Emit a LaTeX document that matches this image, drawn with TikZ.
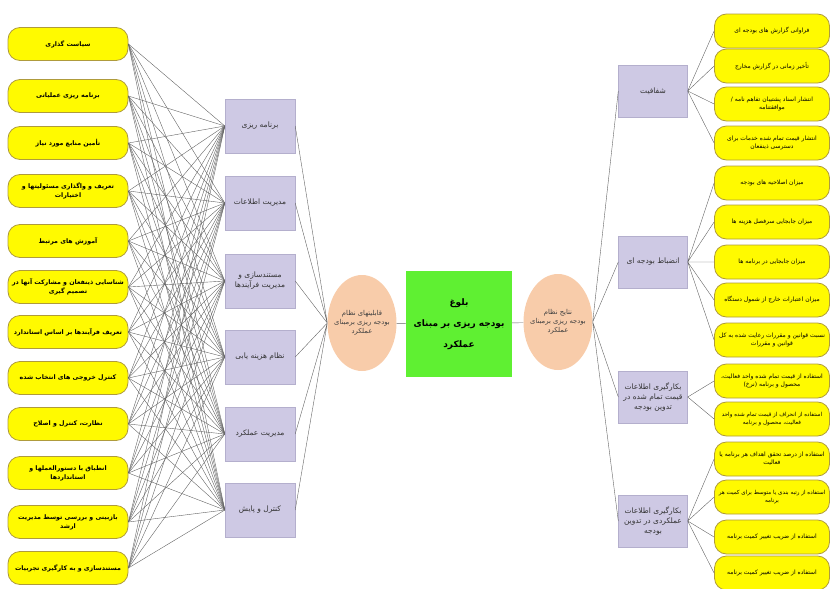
\documentclass[tikz,border=0pt]{standalone}
\usepackage{fontspec}
\newfontfamily\arabicfont[Script=Arabic]{DejaVu Sans}
\TeXXeTstate=1
\newcommand{\prs}[1]{\beginR #1\endR}
\usetikzlibrary{shapes,positioning}

\definecolor{boxyellow}{RGB}{255,250,0}
\definecolor{yellowline}{RGB}{175,155,60}
\definecolor{lilac}{RGB}{206,201,228}
\definecolor{lilacline}{RGB}{180,175,205}
\definecolor{peach}{RGB}{248,204,170}
\definecolor{brightgreen}{RGB}{95,240,50}
\definecolor{linkgray}{RGB}{100,100,100}

\begin{document}
\begin{tikzpicture}[x=1pt,y=-1pt,
  font=\arabicfont\fontsize{7}{9}\selectfont,
  yellowbox/.style={draw=yellowline, fill=boxyellow, line width=0.8pt,
    rounded corners=12pt, minimum width=120pt, minimum height=33pt,
    align=center, inner sep=1pt, font=\arabicfont\bfseries\fontsize{6.3}{9}\selectfont},
  ryellow/.style={yellowbox, minimum width=115pt, minimum height=34pt,
    font=\arabicfont\fontsize{6}{8}\selectfont},
  tight/.style={font=\arabicfont\fontsize{5.6}{8}\selectfont},
  purplebox/.style={draw=lilacline, fill=lilac, minimum width=70pt,
    minimum height=54pt, align=center, inner sep=1pt, text=black!80,
    font=\arabicfont\fontsize{7.5}{10}\selectfont},
  oval/.style={ellipse, fill=peach, minimum width=69pt, minimum height=96pt,
    align=center, inner sep=-4pt, text=black!75,
    font=\arabicfont\fontsize{6.8}{9}\selectfont},
  link/.style={draw=linkgray, line width=0.4pt}]
  \useasboundingbox (0,0) rectangle (831,589);

  % left column
  \node[yellowbox] (l1) at (68,44) {\prs{سیاست گذاری}};
  \node[yellowbox] (l2) at (68,96) {\prs{برنامه ریزی عملیاتی}};
  \node[yellowbox] (l3) at (68,143) {\prs{تأمین منابع مورد نیاز}};
  \node[yellowbox] (l4) at (68,191) {\prs{تعریف و واگذاری مسئولیتها و}\\\prs{اختیارات}};
  \node[yellowbox] (l5) at (68,241) {\prs{آموزش های مرتبط}};
  \node[yellowbox] (l6) at (68,287) {\prs{شناسایی ذینفعان و مشارکت آنها در}\\\prs{تصمیم گیری}};
  \node[yellowbox] (l7) at (68,332) {\prs{تعریف فرآیندها بر اساس استاندارد}};
  \node[yellowbox] (l8) at (68,378) {\prs{کنترل خروجی های انتخاب شده}};
  \node[yellowbox] (l9) at (68,424) {\prs{نظارت، کنترل و اصلاح}};
  \node[yellowbox] (l10) at (68,473) {\prs{انطباق با دستورالعملها و}\\\prs{استانداردها}};
  \node[yellowbox] (l11) at (68,522) {\prs{بازبینی و بررسی توسط مدیریت}\\\prs{ارشد}};
  \node[yellowbox] (l12) at (68,568) {\prs{مستندسازی و به کارگیری تجربیات}};

  \node[purplebox] (p1) at (260,126) {\prs{برنامه ریزی}};
  \node[purplebox] (p2) at (260,203) {\prs{مدیریت اطلاعات}};
  \node[purplebox] (p3) at (260,281) {\prs{مستندسازی و}\\\prs{مدیریت فرآیندها}};
  \node[purplebox] (p4) at (260,357) {\prs{نظام هزینه یابی}};
  \node[purplebox] (p5) at (260,434) {\prs{مدیریت عملکرد}};
  \node[purplebox] (p6) at (260,510) {\prs{کنترل و پایش}};

  % centre
  \node[oval] (capab) at (362,323) {\prs{قابلیتهای نظام}\\\prs{بودجه ریزی برمبنای}\\\prs{عملکرد}};
  \node[fill=brightgreen, minimum width=106pt, minimum height=106pt, align=center,
    inner sep=0pt, font=\arabicfont\bfseries\fontsize{9}{21}\selectfont]
    (maturity) at (459,324) {\prs{بلوغ}\\\prs{بودجه ریزی بر مبنای}\\\prs{عملکرد}};
  \node[oval] (result) at (558,322) {\prs{نتایج نظام}\\\prs{بودجه ریزی برمبنای}\\\prs{عملکرد}};

  % right column
  \node[purplebox, minimum width=69pt, minimum height=52pt] (q1) at (653,91) {\prs{شفافیت}};
  \node[purplebox, minimum width=69pt, minimum height=52pt] (q2) at (653,262) {\prs{انضباط بودجه ای}};
  \node[purplebox, minimum width=69pt, minimum height=52pt] (q3) at (653,397) {\prs{بکارگیری اطلاعات}\\\prs{قیمت تمام شده در}\\\prs{تدوین بودجه}};
  \node[purplebox, minimum width=69pt, minimum height=52pt] (q4) at (653,521) {\prs{بکارگیری اطلاعات}\\\prs{عملکردی در تدوین}\\\prs{بودجه}};

  \node[ryellow] (r1) at (772,31) {\prs{فراوانی گزارش های بودجه ای}};
  \node[ryellow] (r2) at (772,66) {\prs{تأخیر زمانی در گزارش مخارج}};
  \node[ryellow] (r3) at (772,104) {\prs{انتشار اسناد پشتیبان تفاهم نامه /}\\\prs{موافقتنامه}};
  \node[ryellow] (r4) at (772,143) {\prs{انتشار قیمت تمام شده خدمات برای}\\\prs{دسترسی ذینفعان}};
  \node[ryellow] (r5) at (772,183) {\prs{میزان اصلاحیه های بودجه}};
  \node[ryellow] (r6) at (772,222) {\prs{میزان جابجایی سرفصل هزینه ها}};
  \node[ryellow] (r7) at (772,262) {\prs{میزان جابجایی در برنامه ها}};
  \node[ryellow] (r8) at (772,300) {\prs{میزان اعتبارات خارج از شمول دستگاه}};
  \node[ryellow] (r9) at (772,340) {\prs{نسبت قوانین و مقررات رعایت شده به کل}\\\prs{قوانین و مقررات}};
  \node[ryellow] (r10) at (772,381) {\prs{استفاده از قیمت تمام شده واحد فعالیت،}\\\prs{محصول و برنامه (نرخ)}};
  \node[ryellow, tight] (r11) at (772,419) {\prs{استفاده از انحراف از قیمت تمام شده واحد}\\\prs{فعالیت، محصول و برنامه}};
  \node[ryellow] (r12) at (772,459) {\prs{استفاده از درصد تحقق اهداف هر برنامه یا}\\\prs{فعالیت}};
  \node[ryellow, tight] (r13) at (772,497) {\prs{استفاده از رتبه بندی یا متوسط برای کمیت هر}\\\prs{برنامه}};
  \node[ryellow] (r14) at (772,537) {\prs{استفاده از ضریب تغییر کمیت برنامه}};
  \node[ryellow] (r15) at (772,573) {\prs{استفاده از ضریب تغییر کمیت برنامه}};

  % connectors
  \foreach \a in {1,...,12}
    \foreach \b in {1,...,6}
      \draw[link] (l\a.east) -- (p\b.west);
  \draw[link] (p1.east) -- (capab.west) (p2.east) -- (capab.west)
  (p3.east) -- (capab.west) (p4.east) -- (capab.west)
  (p5.east) -- (capab.west) (p6.east) -- (capab.west);
  \draw[link] (capab) -- (maturity) -- (result);
  \draw[link] (result.east) -- (q1.west) (result.east) -- (q2.west)
  (result.east) -- (q3.west) (result.east) -- (q4.west);
  \draw[link] (q1.east) -- (r1.west) (q1.east) -- (r2.west)
  (q1.east) -- (r3.west) (q1.east) -- (r4.west);
  \draw[link] (q2.east) -- (r5.west) (q2.east) -- (r6.west)
  (q2.east) -- (r7.west) (q2.east) -- (r8.west) (q2.east) -- (r9.west);
  \draw[link] (q3.east) -- (r10.west) (q3.east) -- (r11.west);
  \draw[link] (q4.east) -- (r12.west) (q4.east) -- (r13.west)
  (q4.east) -- (r14.west) (q4.east) -- (r15.west);
\end{tikzpicture}
\end{document}
